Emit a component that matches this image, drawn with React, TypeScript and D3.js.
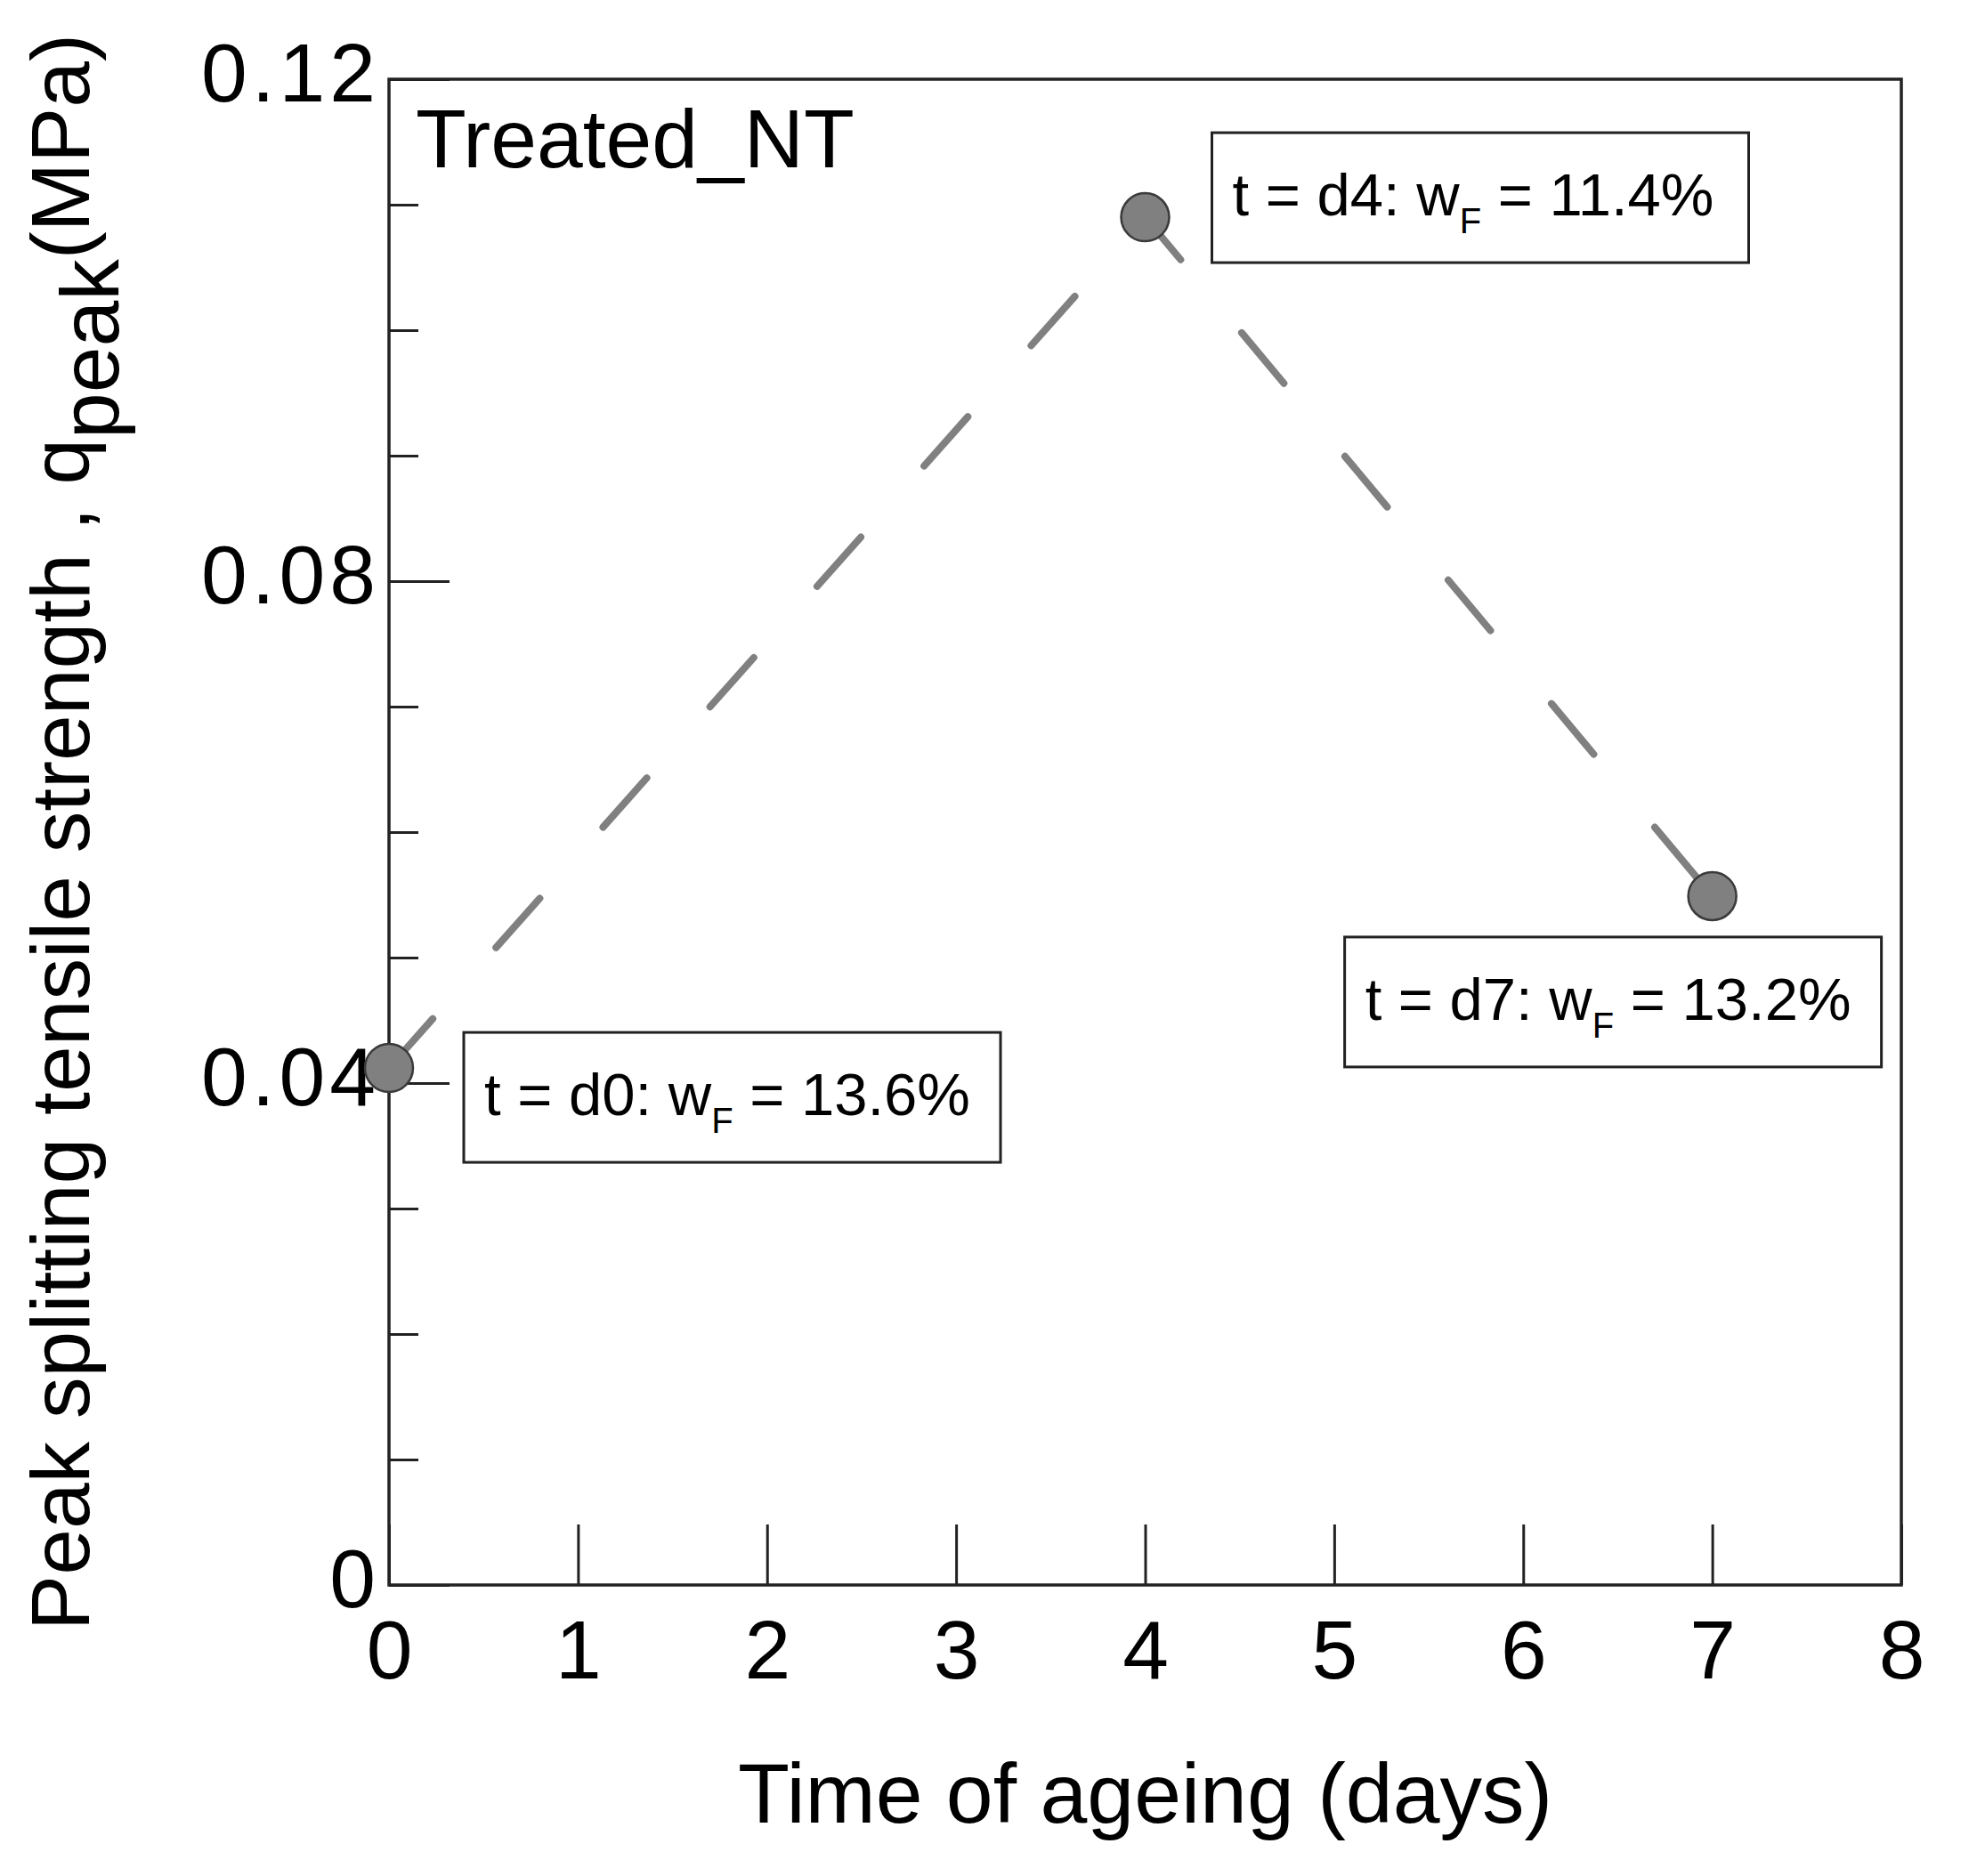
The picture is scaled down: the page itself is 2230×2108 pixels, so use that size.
import React, { useEffect, useRef } from "react";
import * as d3 from "d3";

// ageing time (days) and peak splitting tensile strength (MPa)
const days = [0, 4, 7];
const qPeak = [0.0412, 0.109, 0.0549];
const dayLabels = ["d0", "d4", "d7"];
const waterContent = ["13.6%", "11.4%", "13.2%"];

const xTicks = d3.range(0, 9, 1);
const yMajorTicks = [0, 0.04, 0.08, 0.12];
const yMinorTicks = d3.range(0, 0.1201, 0.01);

const seriesName = "Treated_NT";
const xTitle = "Time of ageing (days)";

// where each annotation box sits relative to its point (px)
const boxOffsets = [
  { dx: 84, dy: -40 },
  { dx: 75, dy: -95 },
  { dx: -413, dy: 46 },
];

const FONT = "'Liberation Sans', Arial, sans-serif";

export default function App() {
  const svgRef = useRef<SVGSVGElement | null>(null);

  useEffect(() => {
    if (!svgRef.current) return;
    const svg = d3.select(svgRef.current);
    svg.selectAll("*").remove();

    const width = 2230;
    const height = 2108;
    const margin = { left: 437, right: 94, top: 89, bottom: 327 };
    const innerWidth = width - margin.left - margin.right;
    const innerHeight = height - margin.top - margin.bottom;

    const x = d3.scaleLinear().domain([0, 8]).range([0, innerWidth]);
    const y = d3.scaleLinear().domain([0, 0.12]).range([innerHeight, 0]);

    const g = svg
      .append("g")
      .attr("transform", `translate(${margin.left},${margin.top})`);

    // minor y ticks (inward)
    const minor = g
      .append("g")
      .call(
        d3
          .axisLeft(y)
          .tickValues(yMinorTicks)
          .tickSize(-33)
          .tickFormat(() => "")
      );
    minor.select(".domain").remove();
    minor.selectAll("line").attr("stroke", "#222").attr("stroke-width", 3);

    // major y ticks + labels
    const yAxis = g
      .append("g")
      .call(
        d3
          .axisLeft(y)
          .tickValues(yMajorTicks)
          .tickSize(-68)
          .tickPadding(10)
          .tickFormat((d: any) => (d === 0 ? "0" : d3.format(".2f")(d)))
      );
    yAxis.select(".domain").remove();
    yAxis.selectAll("line").attr("stroke", "#222").attr("stroke-width", 3);
    yAxis
      .selectAll("text")
      .attr("dy", "0.26em")
      .style("font-family", FONT)
      .style("font-size", "93px")
      .style("letter-spacing", "5px")
      .attr("fill", "#000");

    // x ticks + labels
    const xAxis = g
      .append("g")
      .attr("transform", `translate(0,${innerHeight})`)
      .call(
        d3
          .axisBottom(x)
          .tickValues(xTicks)
          .tickSize(-68)
          .tickPadding(39)
          .tickFormat(d3.format("d"))
      );
    xAxis.select(".domain").remove();
    xAxis.selectAll("line").attr("stroke", "#222").attr("stroke-width", 3);
    xAxis
      .selectAll("text")
      .style("font-family", FONT)
      .style("font-size", "93px")
      .attr("fill", "#000");

    // frame
    g.append("rect")
      .attr("x", 0)
      .attr("y", 0)
      .attr("width", innerWidth)
      .attr("height", innerHeight)
      .attr("fill", "none")
      .attr("stroke", "#222")
      .attr("stroke-width", 3.5);

    const pts = days.map((d, i) => ({ t: d, q: qPeak[i] }));

    // dashed connecting line
    const line = d3
      .line<{ t: number; q: number }>()
      .x((d) => x(d.t))
      .y((d) => y(d.q));
    g.append("path")
      .datum(pts)
      .attr("d", line)
      .attr("fill", "none")
      .attr("stroke", "#808080")
      .attr("stroke-width", 8)
      .attr("stroke-linecap", "round")
      .attr("stroke-dasharray", "74,107");

    // markers
    g.selectAll(".dot")
      .data(pts)
      .enter()
      .append("circle")
      .attr("class", "dot")
      .attr("cx", (d) => x(d.t))
      .attr("cy", (d) => y(d.q))
      .attr("r", 27)
      .attr("fill", "#808080")
      .attr("stroke", "#3a3a3a")
      .attr("stroke-width", 2.5);

    // annotation boxes
    const boxW = 603;
    const boxH = 146;
    pts.forEach((p, i) => {
      const bx = x(p.t) + boxOffsets[i].dx;
      const by = y(p.q) + boxOffsets[i].dy;
      g.append("rect")
        .attr("x", bx)
        .attr("y", by)
        .attr("width", boxW)
        .attr("height", boxH)
        .attr("fill", "#fff")
        .attr("stroke", "#222")
        .attr("stroke-width", 3);
      const txt = g
        .append("text")
        .attr("x", bx + 23)
        .attr("y", by + 93)
        .style("font-family", FONT)
        .style("font-size", "67px")
        .attr("fill", "#000");
      txt.append("tspan").text(`t = ${dayLabels[i]}: w`);
      txt
        .append("tspan")
        .attr("dy", 20)
        .style("font-size", "40px")
        .text("F");
      txt
        .append("tspan")
        .attr("dy", -20)
        .text(` = ${waterContent[i]}`);
    });

    // series label
    g.append("text")
      .attr("x", 30)
      .attr("y", 99)
      .style("font-family", FONT)
      .style("font-size", "93px")
      .attr("fill", "#000")
      .text(seriesName);

    // x title
    svg
      .append("text")
      .attr("x", margin.left + innerWidth / 2)
      .attr("y", 2048)
      .attr("text-anchor", "middle")
      .style("font-family", FONT)
      .style("font-size", "95px")
      .attr("fill", "#000")
      .text(xTitle);

    // y title with subscript
    const yt = svg
      .append("text")
      .attr(
        "transform",
        `translate(100,${margin.top + innerHeight / 2}) rotate(-90)`
      )
      .attr("text-anchor", "middle")
      .style("font-family", FONT)
      .style("font-size", "93px")
      .attr("fill", "#000");
    yt.append("tspan").text("Peak splitting tensile strength , q");
    yt.append("tspan").attr("dy", 33).text("peak");
    yt.append("tspan").attr("dy", -33).text("(MPa)");
  }, []);

  return (
    <svg
      ref={svgRef}
      width={2230}
      height={2108}
      style={{ position: "absolute", left: 0, top: 0, background: "#fff" }}
    />
  );
}
